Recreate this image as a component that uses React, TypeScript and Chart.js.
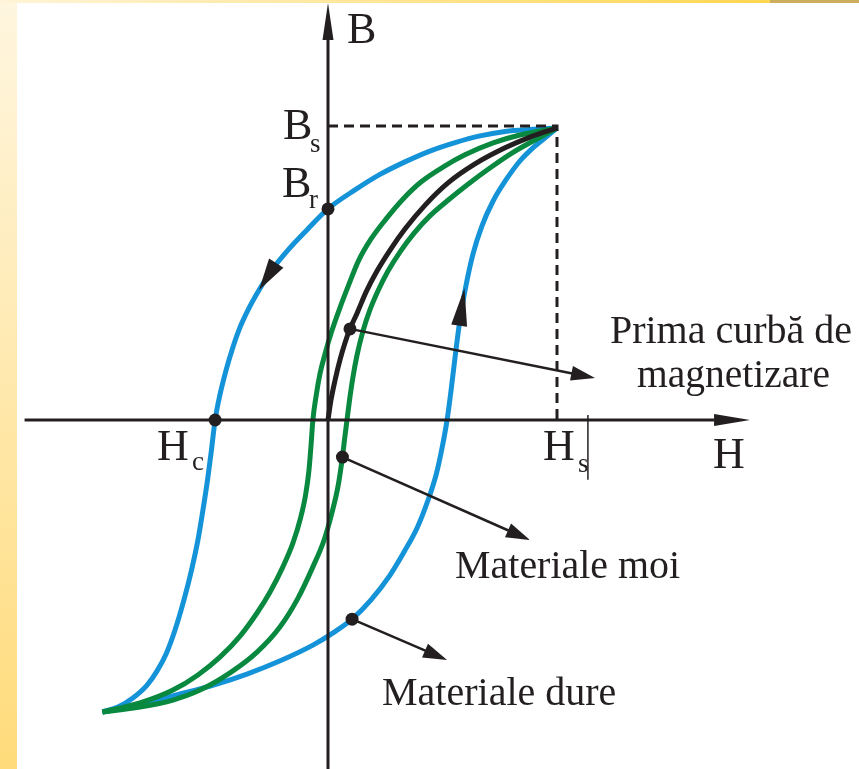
import React, { useEffect, useRef } from "react";
import { Chart, registerables } from "chart.js";

Chart.register(...registerables);

// Field strength H in units of Hs, flux density B in units of Bs.
// Hard material loop (blue), descending branch: +saturation -> -saturation
const hardDescending: [number, number][] = [
  [1.0, 1.0], [0.882, 0.995], [0.773, 0.988], [0.664, 0.973], [0.555, 0.95],
  [0.445, 0.921], [0.336, 0.884], [0.227, 0.841], [0.118, 0.788], [0.0, 0.723],
  [-0.092, 0.651], [-0.175, 0.582], [-0.245, 0.514], [-0.301, 0.445], [-0.349, 0.377],
  [-0.389, 0.308], [-0.419, 0.24], [-0.445, 0.171], [-0.472, 0.086], [-0.493, 0.0],
  [-0.509, -0.103], [-0.526, -0.205], [-0.546, -0.308], [-0.568, -0.411], [-0.596, -0.514],
  [-0.629, -0.616], [-0.668, -0.719], [-0.707, -0.801], [-0.747, -0.86], [-0.79, -0.908],
  [-0.852, -0.952], [-0.917, -0.983], [-0.985, -1.0],
];

// Hard material loop (blue), ascending branch: -saturation -> +saturation
const hardAscending: [number, number][] = [
  [-0.985, -1.0], [-0.821, -0.973], [-0.646, -0.938], [-0.493, -0.906], [-0.354, -0.87],
  [-0.201, -0.822], [-0.066, -0.771], [0.022, -0.729], [0.105, -0.682], [0.188, -0.616],
  [0.271, -0.531], [0.332, -0.452], [0.389, -0.37], [0.437, -0.274], [0.472, -0.188],
  [0.498, -0.096], [0.52, 0.0], [0.537, 0.099], [0.555, 0.216], [0.576, 0.342],
  [0.603, 0.462], [0.633, 0.568], [0.672, 0.664], [0.721, 0.75], [0.777, 0.822],
  [0.838, 0.887], [0.895, 0.932], [0.952, 0.969], [1.0, 1.0],
];

// Soft material loop (green), descending branch
const softDescending: [number, number][] = [
  [1.0, 1.0], [0.838, 0.976], [0.721, 0.949], [0.598, 0.908], [0.502, 0.866],
  [0.406, 0.815], [0.328, 0.757], [0.253, 0.688], [0.188, 0.62], [0.133, 0.545],
  [0.09, 0.462], [0.05, 0.38], [0.015, 0.301], [-0.013, 0.226], [-0.035, 0.158],
  [-0.052, 0.082], [-0.066, 0.0], [-0.074, -0.086], [-0.083, -0.171], [-0.098, -0.257],
  [-0.12, -0.336], [-0.153, -0.421], [-0.197, -0.503], [-0.253, -0.589], [-0.31, -0.661],
  [-0.384, -0.74], [-0.472, -0.812], [-0.568, -0.873], [-0.677, -0.925], [-0.821, -0.969],
  [-0.985, -1.0],
];

// Soft material loop (green), ascending branch
const softAscending: [number, number][] = [
  [-0.985, -1.0], [-0.821, -0.983], [-0.677, -0.959], [-0.559, -0.925], [-0.428, -0.866],
  [-0.31, -0.795], [-0.21, -0.709], [-0.131, -0.61], [-0.066, -0.503], [-0.017, -0.411],
  [0.017, -0.318], [0.044, -0.226], [0.063, -0.127], [0.072, -0.068], [0.083, 0.0],
  [0.094, 0.068], [0.109, 0.147], [0.127, 0.223], [0.153, 0.305], [0.183, 0.377],
  [0.218, 0.442], [0.262, 0.51], [0.314, 0.575], [0.376, 0.64], [0.445, 0.699],
  [0.52, 0.75], [0.607, 0.805], [0.707, 0.863], [0.803, 0.914], [0.904, 0.959],
  [1.0, 1.0],
];

// First magnetization curve (black), from the demagnetized state
const firstMagnetization: [number, number][] = [
  [0.0, 0.0], [0.013, 0.068], [0.031, 0.137], [0.052, 0.205], [0.074, 0.264],
  [0.096, 0.312], [0.127, 0.366], [0.166, 0.438], [0.214, 0.51], [0.271, 0.582],
  [0.336, 0.654], [0.424, 0.736], [0.524, 0.812], [0.642, 0.877], [0.773, 0.932],
  [0.882, 0.969], [1.0, 1.0],
];

// Characteristic points
const remanence: [number, number] = [0.0, 0.723];
const coercivity: [number, number] = [-0.493, 0.0];
const saturation: [number, number] = [1.0, 1.0];

// Text
const axisTitles = ["B", "H"];
const tickLabels: [string, string][] = [["B", "s"], ["B", "r"], ["H", "c"], ["H", "s"]];
const noteTexts = ["Prima curbă de", "magnetizare", "Materiale moi", "Materiale dure"];

const W = 859;
const HGT = 769;
const INK = "#231F20";
const BLUE = "#1593D8";
const GREEN = "#08893F";
const SERIF = '"Liberation Serif", "Times New Roman", serif';

type Pt = [number, number];

function arrowHead(ctx: CanvasRenderingContext2D, tip: Pt, from: Pt, len: number, half: number) {
  const dx = tip[0] - from[0];
  const dy = tip[1] - from[1];
  const d = Math.hypot(dx, dy) || 1;
  const ux = dx / d, uy = dy / d;
  const bx = tip[0] - ux * len, by = tip[1] - uy * len;
  ctx.beginPath();
  ctx.moveTo(tip[0], tip[1]);
  ctx.lineTo(bx - uy * half, by + ux * half);
  ctx.lineTo(bx + uy * half, by - ux * half);
  ctx.closePath();
  ctx.fill();
}

export default function App() {
  const ref = useRef<HTMLCanvasElement | null>(null);

  useEffect(() => {
    const canvas = ref.current;
    if (!canvas) return;

    const toXY = (pts: Pt[]) => pts.map(([h, b]) => ({ x: h, y: b }));

    const backdrop = {
      id: "backdrop",
      beforeDraw(chart: any) {
        const ctx = chart.ctx as CanvasRenderingContext2D;
        ctx.save();
        ctx.fillStyle = "#ffffff";
        ctx.fillRect(0, 0, W, HGT);
        const side = ctx.createLinearGradient(0, 0, 0, HGT);
        side.addColorStop(0, "#FFF6E0");
        side.addColorStop(1, "#FFDB7A");
        ctx.fillStyle = side;
        ctx.fillRect(0, 0, 17, HGT);
        const top = ctx.createLinearGradient(0, 0, 770, 0);
        top.addColorStop(0, "#FFF4D8");
        top.addColorStop(1, "#FFD650");
        ctx.fillStyle = top;
        ctx.fillRect(0, 0, 770, 3);
        ctx.fillStyle = "#CDAE5E";
        ctx.fillRect(770, 0, W - 770, 3);
        ctx.restore();
      },
    };

    const overlay = {
      id: "overlay",
      afterDatasetsDraw(chart: any) {
        const ctx = chart.ctx as CanvasRenderingContext2D;
        const sx = chart.scales.x;
        const sy = chart.scales.y;
        const P = (h: number, b: number): Pt => [sx.getPixelForValue(h), sy.getPixelForValue(b)];

        ctx.save();
        ctx.strokeStyle = INK;
        ctx.fillStyle = INK;

        // saturation guides
        ctx.lineWidth = 3;
        ctx.setLineDash([10, 6]);
        const s0 = P(0, saturation[1]);
        const s1 = P(saturation[0], saturation[1]);
        const s2 = P(saturation[0], 0);
        ctx.beginPath();
        ctx.moveTo(s0[0], s0[1] - 2);
        ctx.lineTo(s1[0], s1[1] - 2);
        ctx.lineTo(s2[0], s2[1]);
        ctx.stroke();
        ctx.setLineDash([]);

        // axes
        const xa0 = P(-1.325, 0), xa1 = P(1.843, 0);
        const ya0 = P(0, sy.min), ya1 = P(0, 1.428);
        ctx.lineWidth = 3;
        ctx.beginPath();
        ctx.moveTo(xa0[0], xa0[1]);
        ctx.lineTo(xa1[0] - 20, xa1[1]);
        ctx.moveTo(ya0[0], ya0[1]);
        ctx.lineTo(ya1[0], ya1[1] + 20);
        ctx.stroke();
        arrowHead(ctx, xa1, xa0, 36, 6);
        arrowHead(ctx, ya1, ya0, 37, 5.5);

        // thin mark beside Hs
        const t0 = P(1.135, 0.017), t1 = P(1.135, -0.205);
        ctx.lineWidth = 1.5;
        ctx.beginPath();
        ctx.moveTo(t0[0], t0[1]);
        ctx.lineTo(t1[0], t1[1]);
        ctx.stroke();

        // direction arrows along the hard loop
        arrowHead(ctx, P(hardDescending[13][0], hardDescending[13][1]), P(hardDescending[12][0], hardDescending[12][1]), 32, 8.5);
        arrowHead(ctx, P(0.596, 0.452), P(0.574, 0.33), 38, 8);

        // pointer arrows to the notes
        const pointers: [Pt, Pt][] = [
          [firstMagnetization[5], [1.166, 0.144]],
          [softAscending[12], [0.882, -0.411]],
          [hardAscending[8], [0.52, -0.822]],
        ];
        for (const [from, to] of pointers) {
          const a = P(from[0], from[1]);
          const b = P(to[0], to[1]);
          const d = Math.hypot(b[0] - a[0], b[1] - a[1]);
          const ux = (b[0] - a[0]) / d, uy = (b[1] - a[1]) / d;
          ctx.lineWidth = 2.5;
          ctx.beginPath();
          ctx.moveTo(a[0], a[1]);
          ctx.lineTo(b[0] - ux * 18, b[1] - uy * 18);
          ctx.stroke();
          arrowHead(ctx, b, a, 24, 7.5);
        }

        // marked points
        const dots: Pt[] = [remanence, coercivity, firstMagnetization[5], softAscending[12], hardAscending[8]];
        for (const d of dots) {
          const p = P(d[0], d[1]);
          ctx.beginPath();
          ctx.arc(p[0], p[1], 6.5, 0, Math.PI * 2);
          ctx.fill();
        }

        // axis titles and tick labels
        ctx.textBaseline = "alphabetic";
        ctx.textAlign = "left";
        ctx.font = `44px ${SERIF}`;
        const titlePos: Pt[] = [[0.083, 1.291], [1.681, -0.164]];
        axisTitles.forEach((t, i) => {
          const p = P(titlePos[i][0], titlePos[i][1]);
          ctx.fillText(t, p[0], p[1]);
        });

        const tickPos: [Pt, Pt][] = [
          [[-0.197, 0.962], [-0.079, 0.918]],
          [[-0.201, 0.764], [-0.083, 0.726]],
          [[-0.747, -0.137], [-0.594, -0.171]],
          [[0.939, -0.137], [1.092, -0.178]],
        ];
        tickLabels.forEach(([main, sub], i) => {
          const m = P(tickPos[i][0][0], tickPos[i][0][1]);
          const s = P(tickPos[i][1][0], tickPos[i][1][1]);
          ctx.font = `44px ${SERIF}`;
          ctx.fillText(main, m[0], m[1]);
          ctx.font = `27px ${SERIF}`;
          ctx.fillText(sub, s[0], s[1]);
        });

        // notes
        ctx.font = `40px ${SERIF}`;
        const notePos: Pt[] = [[1.231, 0.264], [1.349, 0.113], [0.555, -0.541], [0.236, -0.976]];
        const noteWidth = [243, 193, 225, 235];
        noteTexts.forEach((t, i) => {
          const p = P(notePos[i][0], notePos[i][1]);
          ctx.fillText(t, p[0], p[1], noteWidth[i]);
        });

        ctx.restore();
      },
    };

    const line = (data: Pt[], color: string) => ({
      data: toXY(data),
      showLine: true,
      borderColor: color,
      backgroundColor: color,
      borderWidth: 5,
      pointRadius: 0,
      cubicInterpolationMode: "monotone" as const,
      fill: false,
    });

    const chart = new Chart(canvas, {
      type: "scatter",
      data: {
        datasets: [
          line(firstMagnetization, INK),
          line(softDescending, GREEN),
          line(softAscending, GREEN),
          line(hardDescending, BLUE),
          line(hardAscending, BLUE),
        ],
      },
      options: {
        animation: false,
        responsive: false,
        events: [],
        layout: { padding: 0 },
        plugins: { legend: { display: false }, tooltip: { enabled: false } },
        scales: {
          x: { type: "linear", display: false, min: -328 / 229, max: 531 / 229 },
          y: { type: "linear", display: false, min: -349 / 292, max: 420 / 292 },
        },
      },
      plugins: [backdrop, overlay],
    });

    return () => chart.destroy();
  }, []);

  return (
    <div style={{ position: "absolute", left: 0, top: 0, width: W, height: HGT, background: "#fff" }}>
      <canvas ref={ref} width={W} height={HGT} style={{ display: "block" }} />
    </div>
  );
}
